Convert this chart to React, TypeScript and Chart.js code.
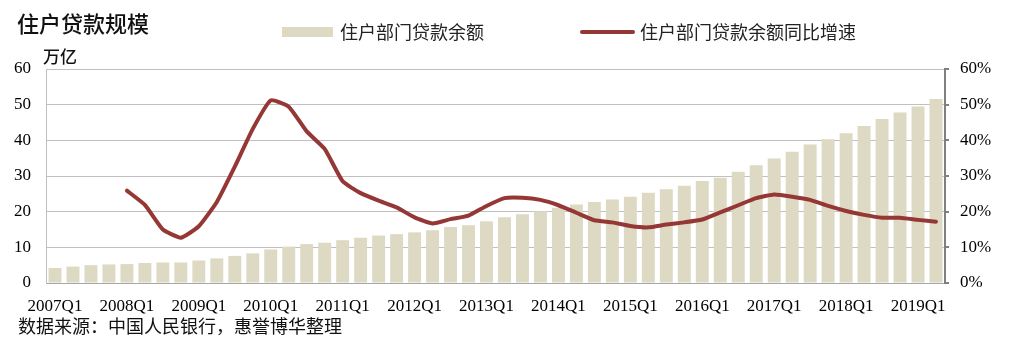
import React, { useEffect, useRef } from "react";
import { Chart, registerables } from "chart.js";

Chart.register(...registerables);

const quarters: string[] = [
  "2007Q1", "2007Q2", "2007Q3", "2007Q4",
  "2008Q1", "2008Q2", "2008Q3", "2008Q4",
  "2009Q1", "2009Q2", "2009Q3", "2009Q4",
  "2010Q1", "2010Q2", "2010Q3", "2010Q4",
  "2011Q1", "2011Q2", "2011Q3", "2011Q4",
  "2012Q1", "2012Q2", "2012Q3", "2012Q4",
  "2013Q1", "2013Q2", "2013Q3", "2013Q4",
  "2014Q1", "2014Q2", "2014Q3", "2014Q4",
  "2015Q1", "2015Q2", "2015Q3", "2015Q4",
  "2016Q1", "2016Q2", "2016Q3", "2016Q4",
  "2017Q1", "2017Q2", "2017Q3", "2017Q4",
  "2018Q1", "2018Q2", "2018Q3", "2018Q4",
  "2019Q1", "2019Q2",
];

// 住户部门贷款余额 (万亿)
const loanBalance: number[] = [
  4.2, 4.6, 5.0, 5.2, 5.3, 5.6, 5.75, 5.75,
  6.3, 6.9, 7.6, 8.3, 9.4, 10.2, 10.9, 11.3,
  12.0, 12.7, 13.3, 13.7, 14.2, 14.8, 15.7, 16.2,
  17.3, 18.4, 19.3, 20.1, 21.1, 22.0, 22.7, 23.4,
  24.2, 25.3, 26.3, 27.3, 28.6, 29.5, 31.2, 33.0,
  34.9, 36.8, 38.8, 40.3, 42.0, 44.0, 46.0, 47.8,
  49.5, 51.6,
];

// 住户部门贷款余额同比增速 (%)
const loanGrowth: (number | null)[] = [
  null, null, null, null, 25.9, 21.9, 15.0, 12.7,
  15.9, 22.7, 32.6, 43.2, 51.2, 49.4, 42.5, 37.6,
  28.5, 25.2, 23.1, 21.2, 18.4, 16.7, 17.9, 18.9,
  21.6, 23.8, 23.9, 23.3, 21.8, 19.7, 17.6, 17.0,
  16.0, 15.6, 16.4, 17.0, 17.8, 19.8, 21.8, 23.8,
  24.8, 24.2, 23.3, 21.6, 20.2, 19.1, 18.3, 18.3,
  17.7, 17.2,
];

const leftTicks: number[] = [0, 10, 20, 30, 40, 50, 60];
const rightTicks: string[] = ["0%", "10%", "20%", "30%", "40%", "50%", "60%"];

const TITLE = "住户贷款规模";
const UNIT = "万亿";
const BAR_LABEL = "住户部门贷款余额";
const LINE_LABEL = "住户部门贷款余额同比增速";
const SOURCE = "数据来源：中国人民银行，惠誉博华整理";

const BAR_COLOR = "#DDD9C3";
const LINE_COLOR = "#953735";
const CJK = '"Noto Sans CJK SC", "Noto Sans", sans-serif';
const SERIF = '"Liberation Serif", "DejaVu Serif", serif';

const textPlugin = {
  id: "textPlugin",
  afterDraw(chart: any) {
    const ctx = chart.ctx as CanvasRenderingContext2D;
    ctx.save();
    ctx.textBaseline = "middle";
    ctx.textAlign = "left";
    // title
    ctx.fillStyle = "#111";
    ctx.font = `500 22px ${CJK}`;
    ctx.fillText(TITLE, 17, 24);
    // unit
    ctx.font = `500 17px ${CJK}`;
    ctx.fillText(UNIT, 43, 57);
    // legend
    ctx.fillStyle = BAR_COLOR;
    ctx.fillRect(282, 27, 51, 10);
    ctx.fillStyle = "#222";
    ctx.font = `18px ${CJK}`;
    ctx.fillText(BAR_LABEL, 340, 32);
    ctx.strokeStyle = LINE_COLOR;
    ctx.lineWidth = 4;
    ctx.lineCap = "round";
    ctx.beginPath();
    ctx.moveTo(582, 32);
    ctx.lineTo(633, 32);
    ctx.stroke();
    ctx.fillText(LINE_LABEL, 640, 32);
    // source
    ctx.fillStyle = "#111";
    ctx.font = `18px ${CJK}`;
    ctx.fillText(SOURCE, 18, 326);
    ctx.restore();
  },
};

export default function App() {
  const ref = useRef<HTMLCanvasElement>(null);

  useEffect(() => {
    if (!ref.current) return;
    const chart = new Chart(ref.current, {
      type: "bar",
      data: {
        labels: quarters,
        datasets: [
          {
            type: "line",
            label: LINE_LABEL,
            data: loanGrowth,
            yAxisID: "y1",
            borderColor: LINE_COLOR,
            backgroundColor: LINE_COLOR,
            borderWidth: 4,
            pointRadius: 0,
            tension: 0.15,
            borderCapStyle: "round",
            borderJoinStyle: "round",
            order: 0,
          } as any,
          {
            type: "bar",
            label: BAR_LABEL,
            data: loanBalance,
            yAxisID: "y",
            backgroundColor: BAR_COLOR,
            borderWidth: 0,
            categoryPercentage: 1,
            barPercentage: 0.72,
            order: 1,
          },
        ],
      },
      options: {
        responsive: false,
        animation: false,
        layout: { padding: { left: 0, right: 0, top: 69, bottom: 0 } },
        plugins: {
          legend: { display: false },
          tooltip: { enabled: false },
          title: { display: false },
        },
        scales: {
          x: {
            grid: { display: false, drawTicks: false },
            border: { display: true, color: "#A6A6A6", width: 1 },
            ticks: {
              autoSkip: false,
              maxRotation: 0,
              minRotation: 0,
              padding: 13,
              color: "#000",
              font: { family: SERIF, size: 17 },
              callback: (_v: any, i: number) => (i % 4 === 0 ? quarters[i] : ""),
            },
            afterFit: (s: any) => {
              s.height = 65;
            },
          },
          y: {
            position: "left",
            min: 0,
            max: 60,
            afterBuildTicks: (s: any) => {
              s.ticks = leftTicks.map((v) => ({ value: v }));
            },
            grid: { color: "#C0C0C0", lineWidth: 1, drawTicks: false },
            border: { display: true, color: "#C0C0C0", width: 1 },
            ticks: {
              padding: 15,
              color: "#000",
              font: { family: SERIF, size: 17 },
              callback: (v: any) => String(v),
            },
            afterFit: (s: any) => {
              s.width = 46;
            },
          },
          y1: {
            position: "right",
            min: 0,
            max: 60,
            afterBuildTicks: (s: any) => {
              s.ticks = leftTicks.map((v) => ({ value: v }));
            },
            grid: {
              drawOnChartArea: false,
              drawTicks: true,
              tickLength: 4,
              color: "#808080",
              lineWidth: 2,
            },
            border: { display: true, color: "#808080", width: 2 },
            ticks: {
              padding: 11,
              color: "#000",
              font: { family: SERIF, size: 17 },
              callback: (_v: any, i: number) => rightTicks[i],
            },
            afterFit: (s: any) => {
              s.width = 76;
            },
          },
        },
      },
      plugins: [textPlugin],
    });
    return () => chart.destroy();
  }, []);

  return (
    <div style={{ position: "absolute", left: 0, top: 0, width: 1021, height: 348, background: "#fff" }}>
      <canvas ref={ref} width={1021} height={348} style={{ width: 1021, height: 348, display: "block" }} />
    </div>
  );
}
